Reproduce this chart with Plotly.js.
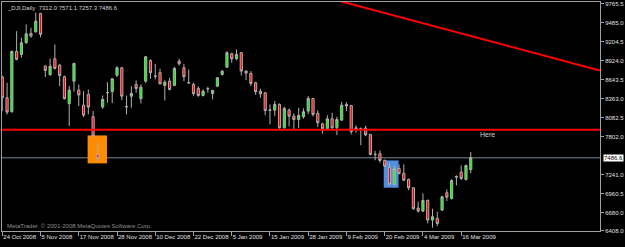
<!DOCTYPE html>
<html><head><meta charset="utf-8">
<script src="https://cdn.plot.ly/plotly-3.0.1.min.js"></script>
<style>html,body{margin:0;padding:0;background:#000;}#chart{width:625px;height:247px;}</style>
</head><body><div id="chart"></div>
<script>
const symbol = "_DJI,Daily";
const opens = [8680,8373,8170,9058,9013,9185,9323,9348,9616,8840,
  8712,8949,8855,8684,8285,8618,8486,8264,8422,8093,
  7536,8235,8447,8462,8707,8816,8245,8397,8570,8359,
  8619,8924,8695,8743,8555,8619,8555,8914,8816,8597,
  8570,8511,8407,8505,8437,8545,8717,8825,9023,8949,
  9038,8767,8732,8595,8471,8447,8185,8190,8275,7931,
  8190,8102,8053,8093,8176,8363,8142,7988,7916,8063,
  7930,8043,8275,8260,7905,7918,7925,7832,7540,7547,
  7448,7349,7094,7330,7256,7167,7044,6744,6700,6858,
  6567,6592,6715,6971,6887,7200,7275,7167,7312.0];
const highs = [8700,8595,9070,9357,9260,9455,9405,9628,9628,8850,
  8952,9160,8870,8700,8545,8890,8570,8471,8496,8176,
  7709,8407,8604,8660,8840,8830,8407,8545,8629,8570,
  8990,8939,8875,8802,8634,8668,8830,8949,8875,8791,
  8595,8545,8496,8535,8490,8678,8781,9060,9038,9087,
  9045,8780,8767,8610,8506,8455,8275,8324,8290,8240,
  8216,8142,8225,8216,8397,8370,8186,8004,8117,8152,
  8093,8314,8309,8265,7965,7935,7960,7840,7590,7596,
  7460,7414,7374,7389,7389,7180,7050,6838,6961,6870,
  6735,6690,6925,7020,7170,7227,7374,7385,7571.1];
const lows = [8176,8127,8150,8925,8965,9170,9260,9333,9268,8680,
  8700,8790,8545,8350,7955,8462,8250,8087,8127,7800,
  7437,8211,8300,8294,8680,8338,8127,8226,8447,8289,
  8590,8654,8644,8570,8334,8481,8545,8850,8619,8584,
  8402,8388,8392,8447,8350,8530,8700,8815,8890,8929,
  8702,8633,8545,8417,8373,8117,7980,8102,7916,7916,
  7950,7906,7925,8063,8132,8097,7940,7842,7900,7900,
  7821,8030,8176,7832,7857,7675,7805,7522,7450,7414,
  7350,7079,7079,7241,7142,7009,6720,6676,6685,6518,
  6455,6479,6700,6848,6870,7079,7157,7150,7257.3];
const closes = [8374,8161,9058,8940,9185,9318,9285,9504,9310,8778,
  8840,8806,8703,8359,8486,8880,8415,8117,8235,7807,
  7473,8348,8450,8654,8816,8397,8240,8437,8511,8530,
  8979,8743,8690,8580,8604,8496,8806,8875,8683,8593,
  8432,8407,8471,8508,8481,8668,8766,9038,8949,9013,
  8767,8737,8585,8462,8432,8186,8192,8275,7931,8216,
  8102,8053,8112,8167,8363,8127,8004,7916,8063,7930,
  8053,8264,8250,7872,7930,7914,7825,7537,7535,7448,
  7364,7094,7325,7256,7157,7044,6735,6700,6858,6567,
  6617,6518,6912,6906,7153,7210,7182,7374,7486.6];
const dateTickIndex = [0,8,16,24,32,40,48,56,64,72,80,88,96];
const dateTickLabels = ["24 Oct 2008","5 Nov 2008","17 Nov 2008","28 Nov 2008","10 Dec 2008","22 Dec 2008","5 Jan 2009","15 Jan 2009","28 Jan 2009","9 Feb 2009","20 Feb 2009","4 Mar 2009","16 Mar 2009"];
const priceTicks = [9765.5,9485.0,9204.5,8924.0,8643.5,8363.0,8082.5,7802.0,7241.0,6960.5,6680.0,6408.0];
const supportLevel = 7901;
const trendLineBars = [60,125];
const trendLinePrices = [10001,8777];
const orangeBoxBars = [17.85,21.9];
const orangeBoxPrices = [7404,7817];
const blueBoxBars = [79.8,82.9];
const blueBoxPrices = [7045,7448];
const noteBar = 101.5, notePrice = 7825, noteText = "Here";
const copyright = "MetaTrader, © 2001-2008 MetaQuotes Software Corp.";

const FONT = "Liberation Sans, Arial, sans-serif";
const bars = opens.map((_, i) => i);
const last = opens.length - 1;

const trace = {
  type: 'candlestick', x: bars, open: opens, high: highs, low: lows, close: closes,
  increasing: {fillcolor: '#00ff00', line: {color: '#b0b0b0', width: 1}},
  decreasing: {fillcolor: '#ff0000', line: {color: '#b0b0b0', width: 1}},
  whiskerwidth: 0, hoverinfo: 'skip', showlegend: false
};

const layout = {
  width: 625, height: 247,
  paper_bgcolor: '#000', plot_bgcolor: '#000',
  margin: {l: 2, r: 25, t: 2, b: 16},
  showlegend: false, boxgap: 0.35,
  xaxis: {
    type: 'linear', range: [-0.06, 125.04], rangeslider: {visible: false},
    tickvals: dateTickIndex, ticktext: dateTickLabels, tickangle: 0,
    ticks: 'outside', ticklen: 4, tickcolor: '#a0a0a0', ticklabelposition: 'outside right',
    ticklabeloverflow: 'allow',
    tickfont: {family: FONT, size: 6, color: '#e0e0e0'},
    showgrid: false, zeroline: false, showline: true, linecolor: '#a0a0a0', linewidth: 1, mirror: true,
    fixedrange: true
  },
  yaxis: {
    side: 'right', range: [6406, 9787],
    tickvals: priceTicks, ticktext: priceTicks.map(v => v.toFixed(1)),
    ticks: 'outside', ticklen: 3, tickcolor: '#a0a0a0', ticklabeloverflow: 'allow',
    tickfont: {family: FONT, size: 6, color: '#e0e0e0'},
    showgrid: false, zeroline: false, showline: true, linecolor: '#a0a0a0', linewidth: 1, mirror: true,
    fixedrange: true
  },
  shapes: [
    {type: 'rect', xref: 'x', yref: 'y', x0: orangeBoxBars[0], x1: orangeBoxBars[1], y0: orangeBoxPrices[0], y1: orangeBoxPrices[1], fillcolor: '#ff8c00', line: {width: 0}, layer: 'below'},
    {type: 'rect', xref: 'x', yref: 'y', x0: blueBoxBars[0], x1: blueBoxBars[1], y0: blueBoxPrices[0], y1: blueBoxPrices[1], fillcolor: '#4f8fe0', line: {width: 0}, layer: 'below'},
    {type: 'line', xref: 'paper', yref: 'y', x0: 0, x1: 1, y0: closes[last], y1: closes[last], line: {color: '#778899', width: 1}, layer: 'below'},
    {type: 'line', xref: 'paper', yref: 'y', x0: 0, x1: 1, y0: supportLevel, y1: supportLevel, line: {color: '#ff0000', width: 2}},
    {type: 'line', xref: 'x', yref: 'y', x0: trendLineBars[0], x1: trendLineBars[1], y0: trendLinePrices[0], y1: trendLinePrices[1], line: {color: '#ff0000', width: 2}}
  ],
  annotations: [
    {xref: 'paper', yref: 'paper', x: 0, y: 1, xanchor: 'left', yanchor: 'top', xshift: 3, yshift: -1, showarrow: false,
     text: symbol + '  ' + [opens[last], highs[last], lows[last], closes[last]].map(v => v.toFixed(1)).join(' '),
     font: {family: FONT, size: 6, color: '#d0d0d0'}},
    {xref: 'paper', yref: 'paper', x: 0, y: 0, xanchor: 'left', yanchor: 'bottom', xshift: 3, yshift: 0, showarrow: false,
     text: copyright, font: {family: FONT, size: 6, color: '#909090'}},
    {xref: 'paper', yref: 'y', x: 1, y: closes[last], xanchor: 'left', yanchor: 'middle', xshift: 3, showarrow: false,
     text: closes[last].toFixed(1), bgcolor: '#ffffff', borderpad: 0, font: {family: FONT, size: 6, color: '#000000'}},
    {xref: 'x', yref: 'y', x: noteBar, y: notePrice, xanchor: 'center', yanchor: 'middle', showarrow: false,
     text: noteText, font: {family: FONT, size: 7, color: '#d0d0d0'}}
  ]
};

Plotly.newPlot('chart', [trace], layout, {displayModeBar: false, staticPlot: true});
</script>
</body></html>
